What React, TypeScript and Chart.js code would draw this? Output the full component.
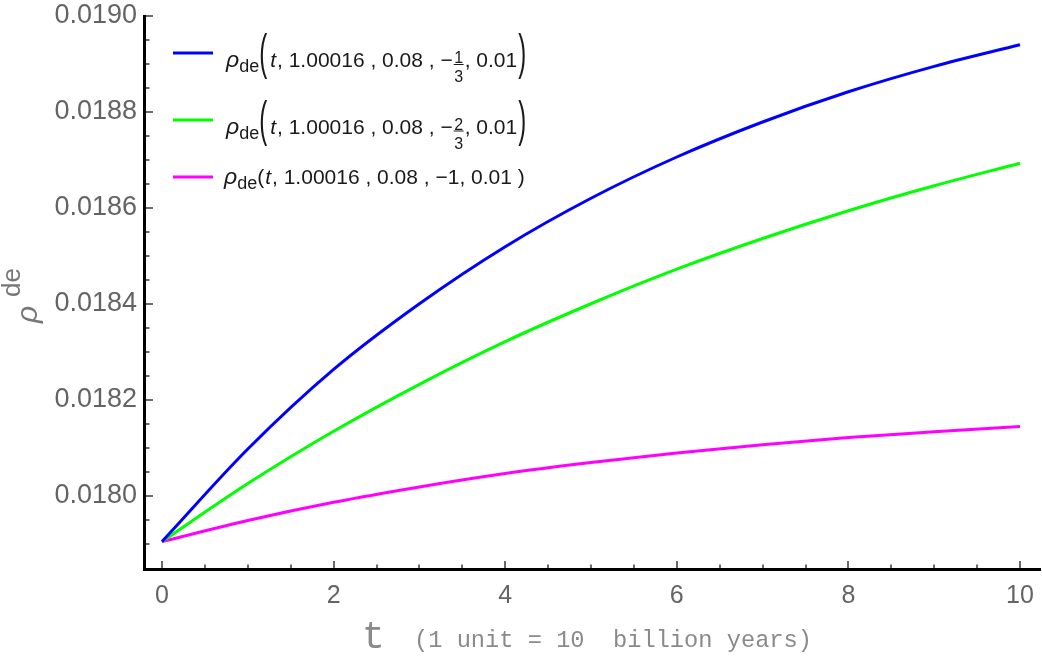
import React, { useEffect, useRef } from "react";
import { Chart, registerables } from "chart.js";

Chart.register(...registerables);

// ---- data ----
const tValues = [0, 1, 2, 3, 4, 5, 6, 7, 8, 9, 10];
const rhoWThird = [0.017904, 0.018097, 0.018263, 0.0184, 0.018519, 0.01862, 0.018706, 0.018779, 0.018842, 0.018895, 0.01894];
const rhoWTwoThirds = [0.017904, 0.018025, 0.018134, 0.018232, 0.018321, 0.0184, 0.018472, 0.018536, 0.018594, 0.018646, 0.018693];
const rhoWOne = [0.017904, 0.017948, 0.017986, 0.018018, 0.018046, 0.018069, 0.018089, 0.018106, 0.018121, 0.018133, 0.018144];

const xTickValues = [0, 2, 4, 6, 8, 10];
const xTickLabels = ["0", "2", "4", "6", "8", "10"];
const yTickValues = [0.018, 0.0182, 0.0184, 0.0186, 0.0188, 0.019];
const yTickLabels = ["0.0180", "0.0182", "0.0184", "0.0186", "0.0188", "0.0190"];
const xMinorStep = 0.5;
const yMinorStep = 0.00005;
const xRange = [-0.1865, 10.233];
const yRange = [0.017849, 0.019];

const seriesColors = ["#0000ff", "#00ff00", "#ff00ff"];
const legendFractions: (string[] | null)[] = [["1", "3"], ["2", "3"], null];
const legendArgs = ", 1.00016 , 0.08 , \u2212";
const legendLastW = "1";
const legendTail = ", 0.01";
const yTitleSymbol = "\u03C1";
const yTitleSup = "de";
const legendSymbol = "\u03C1";
const legendSub = "de";
const xTitleSymbol = "t";
const xTitleNote = "(1 unit = 10  billion years)";

const SANS = '"Liberation Sans", Arial, sans-serif';
const MONO = '"Liberation Mono", "Courier New", monospace';

const decorPlugin = {
  id: "decor",
  afterDatasetsDraw(chart: any) {
    const { ctx, chartArea: ca, scales } = chart;
    const x = scales.x;
    const y = scales.y;
    ctx.save();
    // tick marks (inward)
    ctx.strokeStyle = "#6a6a6a";
    ctx.lineWidth = 2;
    const k0 = Math.ceil(x.min / xMinorStep);
    const k1 = Math.floor(x.max / xMinorStep);
    for (let k = k0; k <= k1; k++) {
      const v = k * xMinorStep;
      const px = Math.round(x.getPixelForValue(v));
      const major = xTickValues.some((t) => Math.abs(t - v) < 1e-9);
      const len = major ? 7 : 3.5;
      ctx.beginPath();
      ctx.moveTo(px, ca.bottom);
      ctx.lineTo(px, ca.bottom - len);
      ctx.stroke();
    }
    const j0 = Math.ceil(y.min / yMinorStep - 1e-6);
    const j1 = Math.floor(y.max / yMinorStep + 1e-6);
    for (let j = j0; j <= j1; j++) {
      const v = j * yMinorStep;
      const py = Math.round(y.getPixelForValue(v));
      if (py > ca.bottom - 3) continue;
      const major = yTickValues.some((t) => Math.abs(t - v) < 1e-9);
      const len = major ? 7 : 3.5;
      ctx.beginPath();
      ctx.moveTo(ca.left, py);
      ctx.lineTo(ca.left + len, py);
      ctx.stroke();
    }
    // axis lines
    ctx.strokeStyle = "#000";
    ctx.lineWidth = 3;
    ctx.beginPath();
    ctx.moveTo(ca.left - 1.5, ca.top - 1);
    ctx.lineTo(ca.left - 1.5, ca.bottom + 3);
    ctx.stroke();
    ctx.beginPath();
    ctx.moveTo(ca.left - 3, ca.bottom + 1.5);
    ctx.lineTo(ca.right + 1, ca.bottom + 1.5);
    ctx.stroke();
    ctx.restore();
  },
  afterDraw(chart: any) {
    const { ctx } = chart;
    ctx.save();
    // ---- y title ----
    ctx.fillStyle = "#777";
    ctx.textBaseline = "alphabetic";
    ctx.translate(37, 323);
    ctx.rotate(-Math.PI / 2);
    ctx.textAlign = "left";
    ctx.font = `italic 30px ${SANS}`;
    ctx.fillText(yTitleSymbol, 0, 0);
    ctx.font = `26px ${SANS}`;
    ctx.fillText(yTitleSup, 26, -17);
    ctx.restore();

    // ---- x title ----
    ctx.save();
    ctx.fillStyle = "#8a8a8a";
    ctx.textAlign = "left";
    ctx.textBaseline = "alphabetic";
    ctx.font = `38px ${MONO}`;
    ctx.fillText(xTitleSymbol, 362, 648);
    ctx.font = `23.7px ${MONO}`;
    ctx.fillText(xTitleNote, 414, 647);
    ctx.restore();

    // ---- legend ----
    ctx.save();
    ctx.fillStyle = "#1a1a1a";
    ctx.textAlign = "left";
    ctx.textBaseline = "alphabetic";
    const rows = [
      { lineY: 53, base: 67 },
      { lineY: 120, base: 133.5 },
      { lineY: 177, base: 183.5 },
    ];
    rows.forEach((r, i) => {
      ctx.strokeStyle = seriesColors[i];
      ctx.lineWidth = 3;
      ctx.beginPath();
      ctx.moveTo(173, r.lineY);
      ctx.lineTo(213, r.lineY);
      ctx.stroke();

      const frac = legendFractions[i];
      let x = frac ? 226 : 224;
      const b = r.base;
      ctx.font = `italic 23px ${SANS}`;
      ctx.fillText(legendSymbol, x, b);
      x += ctx.measureText(legendSymbol).width;
      ctx.font = `18px ${SANS}`;
      ctx.fillText(legendSub, x, b + 5);
      x += ctx.measureText(legendSub).width;
      if (frac) {
        ctx.save();
        ctx.font = `24px ${SANS}`;
        ctx.translate(x, b - 10.5);
        ctx.scale(1, 2.05);
        ctx.fillText("(", 0, 6.2);
        ctx.restore();
        ctx.font = `24px ${SANS}`;
        x += ctx.measureText("(").width + 3;
      } else {
        ctx.font = `21px ${SANS}`;
        ctx.fillText("(", x, b);
        x += ctx.measureText("(").width + 1;
      }
      ctx.font = `italic 21px ${SANS}`;
      ctx.fillText("t", x, b);
      x += ctx.measureText("t").width + 1;
      ctx.font = `21px ${SANS}`;
      ctx.fillText(legendArgs, x, b);
      x += ctx.measureText(legendArgs).width;
      if (frac) {
        ctx.font = `16px ${SANS}`;
        const w = Math.max(ctx.measureText(frac[0]).width, ctx.measureText(frac[1]).width);
        const cx = x + 1.5 + w / 2;
        ctx.textAlign = "center";
        ctx.fillText(frac[0], cx, b - 4);
        ctx.fillText(frac[1], cx, b + 15);
        ctx.textAlign = "left";
        ctx.fillRect(cx - w / 2 - 0.5, b - 3, w + 1, 1);
        x += w + 3;
        ctx.font = `21px ${SANS}`;
        ctx.fillText(legendTail, x, b);
        x += ctx.measureText(legendTail).width + 1;
        ctx.save();
        ctx.font = `24px ${SANS}`;
        ctx.translate(x, b - 10.5);
        ctx.scale(1, 2.05);
        ctx.fillText(")", 0, 6.2);
        ctx.restore();
      } else {
        ctx.font = `21px ${SANS}`;
        const rest = legendLastW + legendTail + " )";
        ctx.fillText(rest, x, b);
      }
    });
    ctx.restore();
  },
};

export default function App() {
  const canvasRef = useRef<HTMLCanvasElement | null>(null);

  useEffect(() => {
    const canvas = canvasRef.current;
    if (!canvas) return;
    const mk = (arr: number[]) => tValues.map((t, i) => ({ x: t, y: arr[i] }));
    const series = [rhoWThird, rhoWTwoThirds, rhoWOne];
    const chart = new Chart(canvas, {
      type: "line",
      data: {
        datasets: series.map((s, i) => ({
          label: `series${i}`,
          data: mk(s),
          borderColor: seriesColors[i],
          borderWidth: 3,
          pointRadius: 0,
          fill: false,
          cubicInterpolationMode: "monotone" as const,
        })),
      },
      options: {
        responsive: false,
        animation: false,
        layout: { padding: { top: 16, right: 2, left: 0, bottom: 0 } },
        plugins: { legend: { display: false }, tooltip: { enabled: false } },
        scales: {
          x: {
            type: "linear",
            min: xRange[0],
            max: xRange[1],
            afterBuildTicks: (s: any) => {
              s.ticks = xTickValues.map((v) => ({ value: v }));
            },
            afterFit: (s: any) => {
              s.height = 89;
              s.paddingLeft = 0;
              s.paddingRight = 0;
              s.paddingTop = 0;
              s.paddingBottom = 0;
            },
            grid: { display: false, drawTicks: false },
            border: { display: false },
            ticks: {
              autoSkip: false,
              maxRotation: 0,
              padding: 13,
              color: "#646464",
              font: { family: SANS, size: 25 },
              callback: (_v: any, i: number) => xTickLabels[i],
            },
          },
          y: {
            type: "linear",
            min: yRange[0],
            max: yRange[1],
            afterBuildTicks: (s: any) => {
              s.ticks = yTickValues.map((v) => ({ value: v }));
            },
            afterFit: (s: any) => {
              s.width = 146;
              s.paddingLeft = 0;
              s.paddingRight = 0;
              s.paddingTop = 0;
              s.paddingBottom = 0;
            },
            grid: { display: false, drawTicks: false },
            border: { display: false },
            ticks: {
              autoSkip: false,
              padding: 9,
              color: "#646464",
              font: { family: SANS, size: 27 },
              callback: (_v: any, i: number) => yTickLabels[i],
            },
          },
        },
      },
      plugins: [decorPlugin],
    });
    return () => chart.destroy();
  }, []);

  return (
    <div style={{ position: "fixed", left: 0, top: 0, width: 1042, height: 657, background: "#fff" }}>
      <canvas ref={canvasRef} width={1042} height={657} style={{ display: "block" }} />
    </div>
  );
}
